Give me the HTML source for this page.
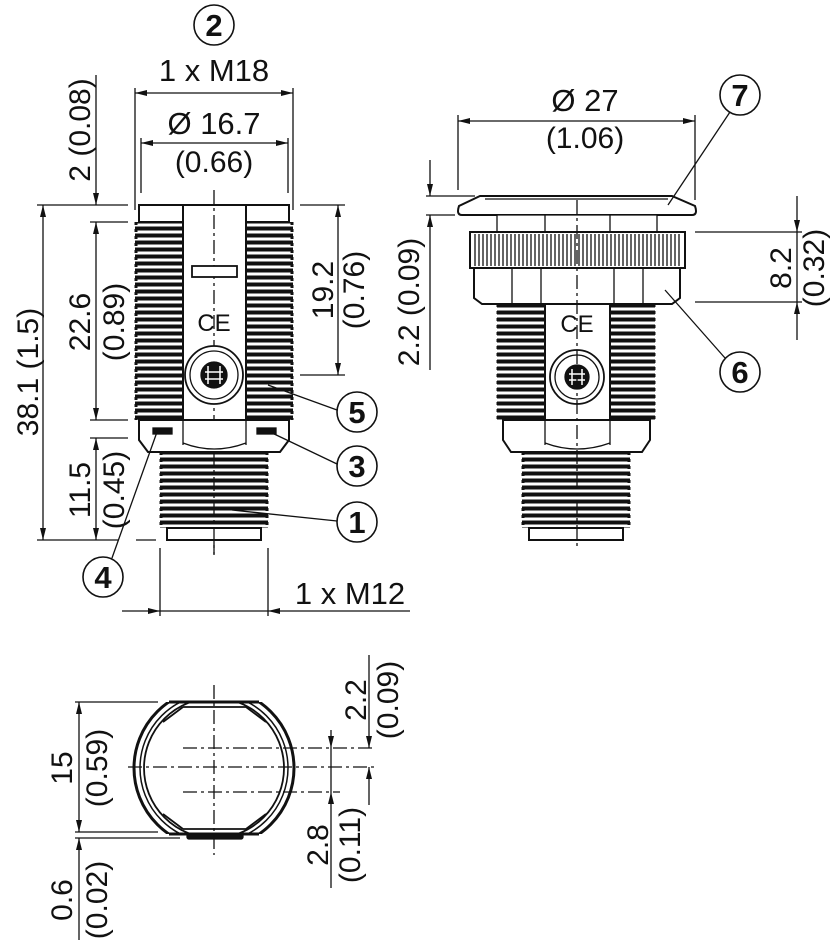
<!DOCTYPE html>
<html><head><meta charset="utf-8"><style>
html,body{margin:0;padding:0;background:#fff;}
svg{display:block;}
text{font-family:"Liberation Sans",sans-serif;fill:#111;}
</style></head><body>
<svg width="835" height="940" viewBox="0 0 835 940" xmlns="http://www.w3.org/2000/svg">
<defs>
<marker id="a" viewBox="0 0 12 6" refX="12" refY="3" markerWidth="13" markerHeight="6" markerUnits="userSpaceOnUse" orient="auto-start-reverse"><path d="M0,0 L12,3 L0,6 z" fill="#111"/></marker>
<pattern id="th" patternUnits="userSpaceOnUse" width="200" height="7" y="1">
<rect x="0" y="0" width="200" height="7" fill="#fff"/>
<rect x="0" y="1.5" width="200" height="4" fill="#111"/>
</pattern>
<clipPath id="bc"><rect x="100" y="702" width="230" height="132"/></clipPath>
</defs>
<g stroke="#111" fill="none" stroke-width="1.3">
<!-- ===== LEFT VIEW ===== -->
<circle cx="214" cy="25" r="20" stroke-width="1.6"/>
<line x1="135" y1="88" x2="135" y2="210"/>
<line x1="293" y1="88" x2="293" y2="210"/>
<line x1="135" y1="93" x2="293" y2="93" marker-start="url(#a)" marker-end="url(#a)"/>
<line x1="141" y1="138" x2="141" y2="193"/>
<line x1="288" y1="138" x2="288" y2="193"/>
<line x1="141" y1="143" x2="288" y2="143" marker-start="url(#a)" marker-end="url(#a)"/>
<rect x="135" y="222" width="48" height="198" fill="url(#th)" stroke="none"/>
<rect x="246" y="222" width="47" height="198" fill="url(#th)" stroke="none"/>
<line x1="136" y1="222" x2="136" y2="420" stroke-width="3" stroke-dasharray="3 4"/>
<line x1="292" y1="222" x2="292" y2="420" stroke-width="3" stroke-dasharray="3 4"/>
<line x1="183" y1="222" x2="183" y2="420" stroke-width="2"/>
<line x1="246" y1="222" x2="246" y2="420" stroke-width="2"/>
<rect x="139" y="205" width="44" height="17" stroke-width="2"/>
<rect x="246" y="205" width="43" height="17" stroke-width="2"/>
<line x1="183" y1="205" x2="246" y2="205" stroke-width="2"/>
<line x1="214" y1="190" x2="214" y2="555" stroke-dasharray="14 4 3 4"/>
<rect x="192" y="266" width="45" height="11" stroke-width="1.8" fill="#fff"/>
<circle cx="214" cy="375" r="29" stroke-width="1.8" fill="#fff"/>
<circle cx="214" cy="375" r="24"/>
<circle cx="214" cy="375" r="13" fill="#111"/>
<path d="M208 366v18M220 366v18M205 372h18M205 379h18" stroke="#fff" stroke-width="1.5"/>
<path d="M139 420H289V440L280 452H148L139 440Z" stroke-width="2" fill="#fff"/>
<line x1="183" y1="420" x2="183" y2="445"/><line x1="246" y1="420" x2="246" y2="445"/>
<path d="M183 443Q214 455 246 443"/>
<rect x="153" y="428" width="19" height="6" fill="#111"/>
<rect x="257" y="428" width="19" height="6" fill="#111"/>
<rect x="160" y="452" width="108" height="76" fill="url(#th)" stroke="none"/>
<line x1="161" y1="452" x2="161" y2="528" stroke-width="3" stroke-dasharray="3 4"/>
<line x1="267" y1="452" x2="267" y2="528" stroke-width="3" stroke-dasharray="3 4"/>
<rect x="167" y="528" width="94" height="12" stroke-width="2" fill="#fff"/>
<line x1="214" y1="452" x2="214" y2="555" stroke-dasharray="14 4 3 4"/>
<line x1="37" y1="205" x2="128" y2="205"/>
<line x1="37" y1="540" x2="118" y2="540"/>
<line x1="136" y1="540" x2="156" y2="540"/>
<line x1="43" y1="205" x2="43" y2="540" marker-start="url(#a)" marker-end="url(#a)"/>
<line x1="96" y1="75" x2="96" y2="205" marker-end="url(#a)"/>
<line x1="90" y1="222" x2="128" y2="222"/>
<line x1="96" y1="222" x2="96" y2="420" marker-start="url(#a)" marker-end="url(#a)"/>
<line x1="90" y1="420" x2="128" y2="420"/>
<line x1="90" y1="438" x2="128" y2="438"/>
<line x1="96" y1="438" x2="96" y2="540" marker-start="url(#a)" marker-end="url(#a)"/>
<line x1="300" y1="205" x2="345" y2="205"/>
<line x1="300" y1="375" x2="345" y2="375"/>
<line x1="338" y1="205" x2="338" y2="375" marker-start="url(#a)" marker-end="url(#a)"/>
<line x1="268" y1="385" x2="337" y2="410"/>
<circle cx="357" cy="412" r="20" stroke-width="1.6"/>
<line x1="270" y1="432" x2="337" y2="464"/>
<circle cx="357" cy="466" r="20" stroke-width="1.6"/>
<line x1="232" y1="510" x2="337" y2="521"/>
<circle cx="357" cy="522" r="20" stroke-width="1.6"/>
<line x1="157" y1="432" x2="112" y2="558"/>
<circle cx="103" cy="577" r="20" stroke-width="1.6"/>
<line x1="160" y1="548" x2="160" y2="616"/>
<line x1="268" y1="548" x2="268" y2="616"/>
<line x1="122" y1="611" x2="160" y2="611" marker-end="url(#a)"/>
<line x1="160" y1="611" x2="268" y2="611"/>
<line x1="410" y1="611" x2="268" y2="611" marker-end="url(#a)"/>

<!-- ===== RIGHT VIEW ===== -->
<line x1="458" y1="115" x2="458" y2="190"/>
<line x1="695" y1="115" x2="695" y2="200"/>
<line x1="458" y1="121" x2="695" y2="121" marker-start="url(#a)" marker-end="url(#a)"/>
<path d="M480 196H672L695 206Q698 215 692 215H462Q456 215 459 206Z" stroke-width="2" fill="#fff"/>
<line x1="485" y1="199" x2="668" y2="199"/>
<path d="M497 215H657V232H497Z" fill="#fff"/>
<path d="M545 215v17M610 215v17"/>
<rect x="470" y="232" width="215" height="36" stroke-width="2" fill="#fff"/>
<path d="M475 234V266M479 234V266M483 234V266M487 234V266M491 234V266M495 234V266M499 234V266M503 234V266M507 234V266M511 234V266M515 234V266M519 234V266M523 234V266M527 234V266M531 234V266M535 234V266M539 234V266M543 234V266M547 234V266M551 234V266M555 234V266M559 234V266M563 234V266M567 234V266M571 234V266M575 234V266M579 234V266M583 234V266M587 234V266M591 234V266M595 234V266M599 234V266M603 234V266M607 234V266M611 234V266M615 234V266M619 234V266M623 234V266M627 234V266M631 234V266M635 234V266M639 234V266M643 234V266M647 234V266M651 234V266M655 234V266M659 234V266M663 234V266M667 234V266M671 234V266M675 234V266M679 234V266"/>
<path d="M474 268H680V298L672 304H482L474 298Z" stroke-width="2" fill="#fff"/>
<path d="M512 268V304M541 268V304M614 268V304M643 268V304"/>
<rect x="497" y="304" width="48" height="116" fill="url(#th)" stroke="none"/>
<rect x="610" y="304" width="45" height="116" fill="url(#th)" stroke="none"/>
<line x1="498" y1="304" x2="498" y2="420" stroke-width="3" stroke-dasharray="3 4"/>
<line x1="654" y1="304" x2="654" y2="420" stroke-width="3" stroke-dasharray="3 4"/>
<line x1="545" y1="304" x2="545" y2="420" stroke-width="2"/>
<line x1="610" y1="304" x2="610" y2="420" stroke-width="2"/>
<circle cx="577" cy="377" r="27" stroke-width="1.8" fill="#fff"/>
<circle cx="577" cy="377" r="22"/>
<circle cx="577" cy="377" r="12" fill="#111"/>
<path d="M572 369v16M582 369v16M569 374h16M569 380h16" stroke="#fff" stroke-width="1.5"/>
<path d="M503 420H650V440L642 452H511L503 440Z" stroke-width="2" fill="#fff"/>
<line x1="545" y1="420" x2="545" y2="445"/><line x1="610" y1="420" x2="610" y2="445"/>
<path d="M545 443Q577 455 610 443"/>
<rect x="522" y="452" width="108" height="76" fill="url(#th)" stroke="none"/>
<line x1="523" y1="452" x2="523" y2="528" stroke-width="3" stroke-dasharray="3 4"/>
<line x1="629" y1="452" x2="629" y2="528" stroke-width="3" stroke-dasharray="3 4"/>
<rect x="529" y="528" width="94" height="12" stroke-width="2" fill="#fff"/>
<line x1="577" y1="200" x2="577" y2="548" stroke-dasharray="14 4 3 4"/>
<line x1="430" y1="160" x2="430" y2="196" marker-end="url(#a)"/>
<line x1="426" y1="196" x2="475" y2="196"/>
<line x1="426" y1="215" x2="455" y2="215"/>
<line x1="430" y1="370" x2="430" y2="215" marker-end="url(#a)"/>
<line x1="695" y1="232" x2="802" y2="232"/>
<line x1="695" y1="302" x2="802" y2="302"/>
<line x1="797" y1="196" x2="797" y2="232" marker-end="url(#a)"/>
<line x1="797" y1="232" x2="797" y2="302"/>
<line x1="797" y1="340" x2="797" y2="302" marker-end="url(#a)"/>
<line x1="668" y1="205" x2="730" y2="112"/>
<circle cx="740" cy="95" r="20" stroke-width="1.6"/>
<line x1="665" y1="290" x2="725" y2="358"/>
<circle cx="740" cy="372" r="20" stroke-width="1.6"/>

<!-- ===== BOTTOM VIEW ===== -->
<g clip-path="url(#bc)">
<circle cx="214" cy="768" r="80" stroke-width="3"/>
<circle cx="214" cy="768" r="74" stroke-width="1.5"/>
<circle cx="214" cy="768" r="70" stroke-width="1.8"/>
</g>
<line x1="169" y1="702" x2="259" y2="702" stroke-width="3"/>
<line x1="169" y1="834" x2="259" y2="834" stroke-width="3"/>
<path d="M183 707H246L266 722M183 707L163 722M183 829H246L266 814M183 829L163 814" stroke-width="1.8"/>
<rect x="187" y="834" width="56" height="5" fill="#111" rx="2"/>
<line x1="214" y1="685" x2="214" y2="855" stroke-dasharray="14 4 3 4"/>
<line x1="128" y1="767" x2="375" y2="767" stroke-dasharray="14 4 3 4"/>
<line x1="183" y1="748" x2="375" y2="748" stroke-dasharray="14 4 3 4"/>
<line x1="183" y1="792" x2="340" y2="792" stroke-dasharray="14 4 3 4"/>
<line x1="75" y1="702" x2="158" y2="702"/>
<line x1="75" y1="832" x2="158" y2="832"/>
<line x1="75" y1="838" x2="180" y2="838"/>
<line x1="79" y1="702" x2="79" y2="832" marker-start="url(#a)" marker-end="url(#a)"/>
<line x1="79" y1="940" x2="79" y2="838" marker-end="url(#a)"/>
<line x1="331" y1="730" x2="331" y2="748" marker-end="url(#a)"/>
<line x1="331" y1="748" x2="331" y2="792"/>
<line x1="331" y1="888" x2="331" y2="792" marker-end="url(#a)"/>
<line x1="369" y1="655" x2="369" y2="748" marker-end="url(#a)"/>
<line x1="369" y1="805" x2="369" y2="767" marker-end="url(#a)"/>
</g>

<g font-size="30">
<text x="214" y="36" font-size="31" font-weight="bold" text-anchor="middle">2</text>
<text x="214" y="81" font-size="31" text-anchor="middle">1 x M18</text>
<text x="214" y="134" font-size="31" text-anchor="middle">Ø 16.7</text>
<text x="214" y="172" text-anchor="middle">(0.66)</text>
<text transform="translate(38,372) rotate(-90)" text-anchor="middle">38.1 (1.5)</text>
<text transform="translate(90,130) rotate(-90)" text-anchor="middle">2 (0.08)</text>
<text transform="translate(90,322) rotate(-90)" text-anchor="middle">22.6</text>
<text transform="translate(124,322) rotate(-90)" text-anchor="middle">(0.89)</text>
<text transform="translate(90,490) rotate(-90)" text-anchor="middle">11.5</text>
<text transform="translate(124,490) rotate(-90)" text-anchor="middle">(0.45)</text>
<text transform="translate(333,290) rotate(-90)" text-anchor="middle">19.2</text>
<text transform="translate(364,290) rotate(-90)" text-anchor="middle">(0.76)</text>
<text transform="translate(419,302) rotate(-90)" text-anchor="middle">2.2 (0.09)</text>
<text x="357" y="423" font-size="31" font-weight="bold" text-anchor="middle">5</text>
<text x="357" y="477" font-size="31" font-weight="bold" text-anchor="middle">3</text>
<text x="357" y="533" font-size="31" font-weight="bold" text-anchor="middle">1</text>
<text x="103" y="588" font-size="31" font-weight="bold" text-anchor="middle">4</text>
<text x="350" y="604" font-size="31" text-anchor="middle">1 x M12</text>
<text x="214" y="331" font-size="24" text-anchor="middle">CE</text>
<text x="577" y="332" font-size="24" text-anchor="middle">CE</text>
<text x="585" y="111" font-size="31" text-anchor="middle">Ø 27</text>
<text x="585" y="148" text-anchor="middle">(1.06)</text>
<text x="740" y="106" font-size="31" font-weight="bold" text-anchor="middle">7</text>
<text x="740" y="383" font-size="31" font-weight="bold" text-anchor="middle">6</text>
<text transform="translate(791,268) rotate(-90)" text-anchor="middle">8.2</text>
<text transform="translate(824,268) rotate(-90)" text-anchor="middle">(0.32)</text>
<text transform="translate(72,768) rotate(-90)" text-anchor="middle">15</text>
<text transform="translate(107,768) rotate(-90)" text-anchor="middle">(0.59)</text>
<text transform="translate(72,900) rotate(-90)" text-anchor="middle">0.6</text>
<text transform="translate(107,900) rotate(-90)" text-anchor="middle">(0.02)</text>
<text transform="translate(328,845) rotate(-90)" text-anchor="middle">2.8</text>
<text transform="translate(360,845) rotate(-90)" text-anchor="middle">(0.11)</text>
<text transform="translate(366,700) rotate(-90)" text-anchor="middle">2.2</text>
<text transform="translate(398,700) rotate(-90)" text-anchor="middle">(0.09)</text>
</g>
</svg>
</body></html>
